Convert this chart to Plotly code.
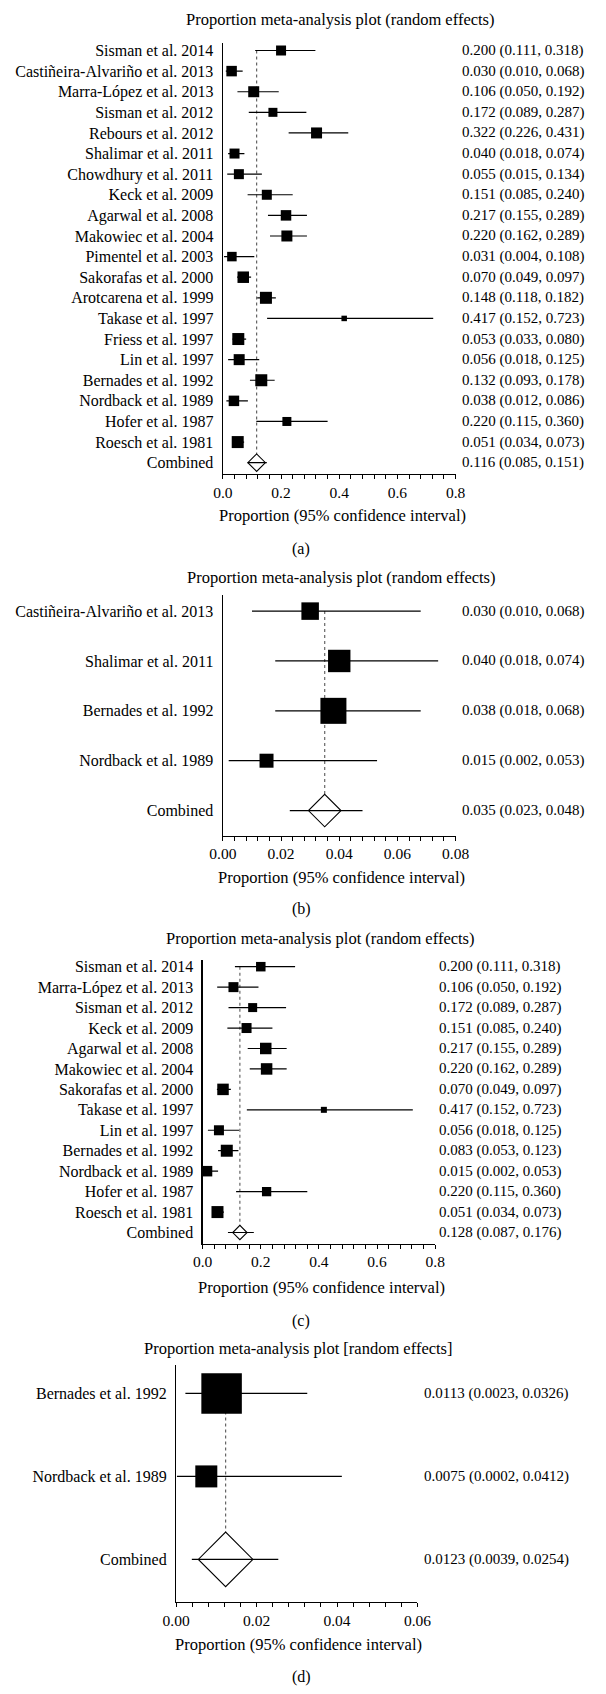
import plotly.graph_objects as go

FIG_W, FIG_H = 606, 1694
FONT = "Liberation Serif"

# ---------------- data ----------------
# Panel (a)
a_studies = ["Sisman et al. 2014", "Castiñeira-Alvariño et al. 2013", "Marra-López et al. 2013",
             "Sisman et al. 2012", "Rebours et al. 2012", "Shalimar et al. 2011",
             "Chowdhury et al. 2011", "Keck et al. 2009", "Agarwal et al. 2008",
             "Makowiec et al. 2004", "Pimentel et al. 2003", "Sakorafas et al. 2000",
             "Arotcarena et al. 1999", "Takase et al. 1997", "Friess et al. 1997",
             "Lin et al. 1997", "Bernades et al. 1992", "Nordback et al. 1989",
             "Hofer et al. 1987", "Roesch et al. 1981"]
a_est = [0.200, 0.030, 0.106, 0.172, 0.322, 0.040, 0.055, 0.151, 0.217, 0.220,
         0.031, 0.070, 0.148, 0.417, 0.053, 0.056, 0.132, 0.038, 0.220, 0.051]
a_lo = [0.111, 0.010, 0.050, 0.089, 0.226, 0.018, 0.015, 0.085, 0.155, 0.162,
        0.004, 0.049, 0.118, 0.152, 0.033, 0.018, 0.093, 0.012, 0.115, 0.034]
a_hi = [0.318, 0.068, 0.192, 0.287, 0.431, 0.074, 0.134, 0.240, 0.289, 0.289,
        0.108, 0.097, 0.182, 0.723, 0.080, 0.125, 0.178, 0.086, 0.360, 0.073]
a_pooled = [0.116, 0.085, 0.151]

# Panel (b)
b_studies = ["Castiñeira-Alvariño et al. 2013", "Shalimar et al. 2011",
             "Bernades et al. 1992", "Nordback et al. 1989"]
b_est = [0.030, 0.040, 0.038, 0.015]
b_lo = [0.010, 0.018, 0.018, 0.002]
b_hi = [0.068, 0.074, 0.068, 0.053]
b_pooled = [0.035, 0.023, 0.048]

# Panel (c)
c_studies = ["Sisman et al. 2014", "Marra-López et al. 2013", "Sisman et al. 2012",
             "Keck et al. 2009", "Agarwal et al. 2008", "Makowiec et al. 2004",
             "Sakorafas et al. 2000", "Takase et al. 1997", "Lin et al. 1997",
             "Bernades et al. 1992", "Nordback et al. 1989", "Hofer et al. 1987",
             "Roesch et al. 1981"]
c_est = [0.200, 0.106, 0.172, 0.151, 0.217, 0.220, 0.070, 0.417, 0.056, 0.083, 0.015, 0.220, 0.051]
c_lo = [0.111, 0.050, 0.089, 0.085, 0.155, 0.162, 0.049, 0.152, 0.018, 0.053, 0.002, 0.115, 0.034]
c_hi = [0.318, 0.192, 0.287, 0.240, 0.289, 0.289, 0.097, 0.723, 0.125, 0.123, 0.053, 0.360, 0.073]
c_pooled = [0.128, 0.087, 0.176]

# Panel (d)
d_studies = ["Bernades et al. 1992", "Nordback et al. 1989"]
d_est = [0.0113, 0.0075]
d_lo = [0.0023, 0.0002]
d_hi = [0.0326, 0.0412]
d_pooled = [0.0123, 0.0039, 0.0254]

# ---------------- styling (box sizes in px, layout in px) ----------------
a_box_px = [10, 10.5, 11, 9, 11, 10, 10, 10, 10.5, 11, 9.5, 11.5, 12, 5.5, 12, 11, 12, 10.5, 9, 12]
b_box_px = [17.5, 22.4, 26, 14]
c_box_px = [9.5, 10, 9, 10, 11.5, 11.5, 11.5, 6, 10, 12, 10.5, 9.3, 12]
d_box_px = [40.5, 22]

panels = [
    dict(studies=a_studies, est=a_est, lo=a_lo, hi=a_hi, pooled=a_pooled, box=a_box_px,
         diamond=13.5, xpx=(219, 463), ypx=(41.7, 473.3), pad=(0.38, 0.55),
         xmax=0.8, dtick=0.2, minor=0.04, fmt=".1f", dec=3,
         title="Proportion meta-analysis plot (random effects)", title_xy=(342.7, 19),
         text_x=467.5, axtitle_xy=(344, 515), label="(a)", label_y=548),
    dict(studies=b_studies, est=b_est, lo=b_lo, hi=b_hi, pooled=b_pooled, box=b_box_px,
         diamond=25, xpx=(219, 463), ypx=(594, 835), pad=(0.33, 0.5),
         xmax=0.08, dtick=0.02, minor=0.004, fmt=".2f", dec=3,
         title="Proportion meta-analysis plot (random effects)", title_xy=(343, 577),
         text_x=467.5, axtitle_xy=(343, 877), label="(b)", label_y=909),
    dict(studies=c_studies, est=c_est, lo=c_lo, hi=c_hi, pooled=c_pooled, box=c_box_px,
         diamond=11, xpx=(197.8, 441.6), ypx=(959.3, 1243.3), pad=(0.34, 0.54),
         xmax=0.8, dtick=0.2, minor=0.04, fmt=".1f", dec=3,
         title="Proportion meta-analysis plot (random effects)", title_xy=(321, 938.3),
         text_x=443.5, axtitle_xy=(322, 1287), label="(c)", label_y=1320.7),
    dict(studies=d_studies, est=d_est, lo=d_lo, hi=d_hi, pooled=d_pooled, box=d_box_px,
         diamond=42, xpx=(170, 423), ypx=(1365, 1601.7), pad=(0.34, 0.51),
         xmax=0.06, dtick=0.02, minor=0.004, fmt=".2f", dec=4,
         title="Proportion meta-analysis plot [random effects]", title_xy=(298, 1348.3),
         text_x=428, axtitle_xy=(298, 1644), label="(d)", label_y=1676.7),
]


def px_x(x):
    return x / FIG_W


def px_y(y):
    return 1 - y / FIG_H


fig = go.Figure()
annotations = []
layout_axes = {}

for i, p in enumerate(panels, start=1):
    sx = "" if i == 1 else str(i)
    xref, yref = "x" + sx, "y" + sx
    n = len(p["studies"])
    rows = list(range(n))
    est, lo, hi = p["est"], p["lo"], p["hi"]
    pe, plo, phi = p["pooled"]

    # dotted reference line at the pooled estimate
    fig.add_trace(go.Scatter(x=[pe, pe], y=[0, n], mode="lines", xaxis=xref, yaxis=yref,
                             line=dict(color="#666666", width=1.2, dash="dot"),
                             hoverinfo="skip", showlegend=False))
    # individual studies
    fig.add_trace(go.Scatter(
        x=est, y=rows, mode="markers", xaxis=xref, yaxis=yref, cliponaxis=False,
        marker=dict(symbol="square", size=p["box"], color="black", opacity=1,
                    line=dict(width=0)),
        error_x=dict(type="data", symmetric=False,
                     array=[h - e for h, e in zip(hi, est)],
                     arrayminus=[e - l for e, l in zip(est, lo)],
                     width=0, thickness=1.2, color="black"),
        showlegend=False))
    # pooled diamond
    fig.add_trace(go.Scatter(x=[pe], y=[n], mode="markers", xaxis=xref, yaxis=yref,
                             cliponaxis=False,
                             marker=dict(symbol="diamond", size=p["diamond"], color="white",
                                         opacity=1, line=dict(color="black", width=1.1)),
                             showlegend=False))
    # pooled CI
    fig.add_trace(go.Scatter(x=[plo, phi], y=[n, n], mode="lines", xaxis=xref, yaxis=yref,
                             line=dict(color="black", width=1.2), showlegend=False))

    layout_axes["xaxis" + sx] = dict(
        domain=[px_x(p["xpx"][0]), px_x(p["xpx"][1])], range=[0, p["xmax"]], anchor=yref,
        showline=True, linecolor="black", linewidth=1.3, ticks="outside", ticklen=4,
        tickwidth=1, tickcolor="black", tick0=0, dtick=p["dtick"], tickformat=p["fmt"],
        tickfont=dict(family=FONT, size=15.5, color="black"),
        minor=dict(dtick=p["minor"], tick0=0, ticks="outside", ticklen=4, tickwidth=1,
                   tickcolor="black", showgrid=False),
        showgrid=False, zeroline=False, fixedrange=True)
    layout_axes["yaxis" + sx] = dict(
        domain=[px_y(p["ypx"][1]), px_y(p["ypx"][0])],
        range=[n + p["pad"][1], -p["pad"][0]], anchor=xref,
        showline=True, linecolor="black", linewidth=1.3, ticks="",
        tickvals=list(range(n + 1)), ticktext=p["studies"] + ["Combined"],
        tickfont=dict(family=FONT, size=16, color="black"), ticklabelstandoff=5,
        showgrid=False, zeroline=False, fixedrange=True)

    # right-hand text: estimate (95% CI)
    d = p["dec"]
    labels = [f"{e:.{d}f} ({l:.{d}f}, {h:.{d}f})" for e, l, h in zip(est, lo, hi)]
    labels.append(f"{pe:.{d}f} ({plo:.{d}f}, {phi:.{d}f})")
    for r, t in enumerate(labels):
        annotations.append(dict(text=t, xref="paper", x=px_x(p["text_x"]), xanchor="left",
                                yref=yref, y=r, yanchor="middle", showarrow=False,
                                font=dict(family=FONT, size=15, color="black")))
    # title, axis title, panel label
    annotations.append(dict(text=p["title"], xref="paper", yref="paper",
                            x=px_x(p["title_xy"][0]), y=px_y(p["title_xy"][1]),
                            xanchor="center", yanchor="middle", showarrow=False,
                            font=dict(family=FONT, size=16.5, color="black")))
    annotations.append(dict(text="Proportion (95% confidence interval)", xref="paper", yref="paper",
                            x=px_x(p["axtitle_xy"][0]), y=px_y(p["axtitle_xy"][1]),
                            xanchor="center", yanchor="middle", showarrow=False,
                            font=dict(family=FONT, size=16.5, color="black")))
    annotations.append(dict(text=p["label"], xref="paper", yref="paper",
                            x=px_x(301), y=px_y(p["label_y"]),
                            xanchor="center", yanchor="middle", showarrow=False,
                            font=dict(family=FONT, size=16, color="black")))

fig.update_layout(width=FIG_W, height=FIG_H, margin=dict(l=0, r=0, t=0, b=0),
                  paper_bgcolor="white", plot_bgcolor="white", showlegend=False,
                  hovermode=False, annotations=annotations, **layout_axes)

fig.write_html("out.html", config={"displayModeBar": False, "staticPlot": True},
               post_script="document.body.style.margin='0px';")
